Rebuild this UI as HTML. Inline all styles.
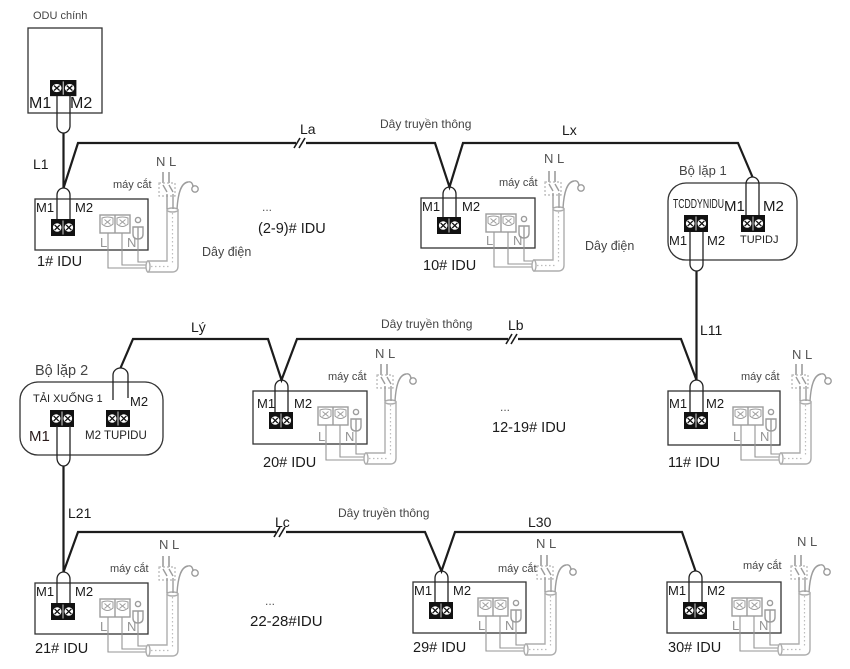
<!DOCTYPE html>
<html><head><meta charset="utf-8">
<style>
html,body{margin:0;padding:0;background:#fff;}
svg{display:block;}
text{font-family:"Liberation Sans","DejaVu Sans",sans-serif;}
.m{font-size:13px;fill:#1a1a1a;}
.g{font-size:13px;fill:#949494;}
.nl{font-size:13px;fill:#555;}
.mc{font-size:11px;fill:#444;}
.lab{font-size:14.5px;fill:#1a1a1a;}
.ll{font-size:14px;fill:#1a1a1a;}
.dt{font-size:12px;fill:#444;}
.lp{fill:none;stroke:#222;stroke-width:1.3;}
.th{fill:none;stroke:#1c1c1c;stroke-width:2.2;stroke-linejoin:miter;}
.bx{fill:none;stroke:#333;stroke-width:1.3;}
</style></head>
<body>
<svg width="850" height="669" viewBox="0 0 850 669" xmlns="http://www.w3.org/2000/svg">
<defs>
<g id="tb">
<rect x="0" y="0" width="24" height="17" fill="#111"/>
<circle cx="6.2" cy="8.5" r="4.3" fill="#fff"/>
<circle cx="17.8" cy="8.5" r="4.3" fill="#fff"/>
<path d="M3.6 5.9l5.2 5.2M8.8 5.9l-5.2 5.2M15.2 5.9l5.2 5.2M20.4 5.9l-5.2 5.2" stroke="#111" stroke-width="1.3"/>
<line x1="12" y1="1.5" x2="12" y2="15.5" stroke="#fff" stroke-width="0.8"/>
</g>
<g id="pw" fill="none" stroke="#9c9c9c" stroke-width="1.4">
<path d="M73 30V69H113M87 30V66H113M103 40V63H113" stroke="#959595" stroke-width="1.1"/>
<rect x="65" y="16" width="30" height="18" fill="#fff"/>
<line x1="80" y1="16" x2="80" y2="34"/>
<path d="M67 19q5.5-2 11 0v6q-5.5 5-11 0zM82 19q5.5-2 11 0v6q-5.5 5-11 0z" stroke-width="1"/>
<path d="M69.5 20.5l6 5M75.5 20.5l-6 5M84.5 20.5l6 5M90.5 20.5l-6 5" stroke-width="0.9"/>
<circle cx="103" cy="21" r="2.6"/>
<path d="M98 28h10v7q0 5-5 5t-5-5z" fill="#fff"/>
<line x1="103" y1="28" x2="103" y2="40"/>
<path d="M113 62H132V11H143V67q0 6-6 6H113z" fill="#fff" stroke="#adadad"/>
<ellipse cx="113" cy="67.5" rx="2" ry="5.5" fill="#fff" stroke="#adadad"/>
<ellipse cx="137.5" cy="11" rx="5.5" ry="2" fill="#fff" stroke="#adadad"/>
<path d="M137.5 14V64M116 67.5H134" stroke-dasharray="1.5 2.5" stroke="#bdbdbd" stroke-width="1.2"/>
<path d="M128 -27V-16M134 -27V-16" stroke="#8f8f8f"/>
<rect x="124" y="-16" width="16" height="13" stroke-dasharray="2 2" stroke="#b5b5b5" stroke-width="1.2"/>
<path d="M128 -14l4 7M134 -14l4 7"/>
<path d="M132 -5V10M138 -5V10"/>
<path d="M142 10C143 -6 146 -16 153 -17C157 -18 158 -14 158 -12"/>
<circle cx="160" cy="-10" r="3.2"/>
</g>
</defs>

<!-- ODU -->
<text x="33" y="19" style="font-size:11px;fill:#444">ODU chính</text>
<rect x="28" y="28" width="74" height="85" class="bx"/>
<use href="#tb" x="50" y="80" transform="translate(50,80) scale(1.1,0.95) translate(-50,-80)"/>
<text x="29" y="108" style="font-size:16px;fill:#1a1a1a">M1</text>
<text x="70" y="108" style="font-size:16px;fill:#1a1a1a">M2</text>
<path d="M57 96V126a6.5 7 0 0 0 13 0V96" class="lp"/>

<!-- thick communication lines -->
<path class="th" d="M63.5 133V188"/>
<path class="th" d="M63.5 188L78 143H435L449.5 187L463 143H738L752.5 177"/>
<path class="th" d="M696.5 271V380"/>
<path class="th" d="M120.5 368L133 339H268L281.5 380L297 339H681L696.5 380"/>
<path class="th" d="M63.5 466V572"/>
<path class="th" d="M63.5 572L78 532H425L441.5 571L455 532H682L695.5 571"/>

<!-- breaks -->
<g stroke="#1c1c1c" stroke-width="1.6">
<rect x="296" y="139" width="10" height="8" fill="#fff" stroke="none"/>
<path d="M294 148L300 138M299 148L305 138"/>
<rect x="508" y="335" width="10" height="8" fill="#fff" stroke="none"/>
<path d="M506 344L512 334M511 344L517 334"/>
<rect x="276" y="528" width="10" height="8" fill="#fff" stroke="none"/>
<path d="M274 537L280 527M279 537L285 527"/>
</g>

<!-- line labels -->
<text x="300" y="134" class="ll">La</text>
<text x="380" y="128" class="dt">Dây truyền thông</text>
<text x="562" y="135" class="ll">Lx</text>
<text x="33" y="169" class="ll">L1</text>
<text x="191" y="332" class="ll">Lý</text>
<text x="381" y="328" class="dt">Dây truyền thông</text>
<text x="508" y="330" class="ll">Lb</text>
<text x="700" y="335" class="ll">L11</text>
<text x="68" y="518" class="ll">L21</text>
<text x="275" y="527" class="ll">Lc</text>
<text x="338" y="517" class="dt">Dây truyền thông</text>
<text x="528" y="527" class="ll">L30</text>

<!-- range labels -->
<text x="262" y="211" style="font-size:12px;fill:#555">...</text>
<text x="258" y="233" class="lab">(2-9)# IDU</text>
<text x="500" y="411" style="font-size:12px;fill:#555">...</text>
<text x="492" y="432" class="lab">12-19# IDU</text>
<text x="265" y="605" style="font-size:12px;fill:#555">...</text>
<text x="250" y="626" style="font-size:15px;fill:#1a1a1a">22-28#IDU</text>

<text x="202" y="256" style="font-size:12.5px;fill:#444">Dây điện</text>
<text x="585" y="250" style="font-size:12.5px;fill:#444">Dây điện</text>

<!-- IDU 1 -->
<g transform="translate(35,199)">
<rect x="0" y="0" width="113" height="51" class="bx"/>
<use href="#tb" x="16" y="20"/>
<path d="M22 20V-4a6.5 7 0 0 1 13 0V20" class="lp"/>
<text x="1" y="13" class="m">M1</text><text x="40" y="13" class="m">M2</text>
<use href="#pw"/>
<text x="65" y="48" class="g">L</text><text x="92" y="48" class="g">N</text>
<text x="121" y="-33" class="nl">N L</text>
<text x="78" y="-11" class="mc">máy cắt</text>
</g>
<text x="37" y="266" class="lab">1# IDU</text>

<!-- IDU 10 -->
<g transform="translate(421,198)">
<rect x="0" y="0" width="114" height="50" class="bx"/>
<use href="#tb" x="16" y="19"/>
<path d="M22 19V-4a6.5 7 0 0 1 13 0V19" class="lp"/>
<text x="1" y="13" class="m">M1</text><text x="41" y="13" class="m">M2</text>
<use href="#pw"/>
<text x="65" y="47" class="g">L</text><text x="92" y="47" class="g">N</text>
<text x="123" y="-35" class="nl">N L</text>
<text x="78" y="-12" class="mc">máy cắt</text>
</g>
<text x="423" y="270" class="lab">10# IDU</text>

<!-- Repeater 1 -->
<text x="679" y="175" style="font-size:13px;fill:#444">Bộ lặp 1</text>
<rect x="668" y="183" width="129" height="77" rx="18" ry="18" class="bx"/>
<text x="673" y="208" style="font-size:13px;fill:#222" textLength="51" lengthAdjust="spacingAndGlyphs">TCDDYNIDU</text>
<text x="724" y="211" style="font-size:15px;fill:#1a1a1a">M1</text>
<text x="763" y="211" style="font-size:15px;fill:#1a1a1a">M2</text>
<use href="#tb" x="684" y="215"/>
<use href="#tb" x="741" y="215"/>
<text x="740" y="243" style="font-size:11px;fill:#222">TUPIDJ</text>
<text x="669" y="245" class="m">M1</text>
<text x="707" y="245" class="m">M2</text>
<path d="M746 215V184a6.5 7 0 0 1 13 0V215" class="lp"/>
<path d="M690 232V264a6.5 7 0 0 0 13 0V232" class="lp"/>

<!-- Repeater 2 -->
<text x="35" y="375" style="font-size:14.5px;fill:#444">Bộ lặp 2</text>
<rect x="20" y="382" width="143" height="73" rx="18" ry="18" class="bx"/>
<text x="33" y="402" style="font-size:11px;fill:#222">TẢI XUỐNG 1</text>
<text x="130" y="406" class="m">M2</text>
<use href="#tb" x="50" y="410"/>
<use href="#tb" x="106" y="410"/>
<text x="85" y="439" style="font-size:11.5px;fill:#222">M2 TUPIDU</text>
<text x="29" y="441" style="font-size:15px;fill:#2a1a1a">M1</text>
<path d="M113 400V375a7.5 7 0 0 1 15 0V398" class="lp"/>
<path d="M57 426V458a6.5 8 0 0 0 13 0V426" class="lp"/>

<!-- IDU 20 -->
<g transform="translate(253,391)">
<rect x="0" y="0" width="114" height="53" class="bx"/>
<use href="#tb" x="16" y="21"/>
<path d="M22 21V-4a6.5 7 0 0 1 13 0V21" class="lp"/>
<text x="4" y="17" class="m">M1</text><text x="41" y="17" class="m">M2</text>
<use href="#pw"/>
<text x="65" y="50" class="g">L</text><text x="92" y="50" class="g">N</text>
<text x="122" y="-33" class="nl">N L</text>
<text x="75" y="-11" class="mc">máy cắt</text>
</g>
<text x="263" y="467" class="lab">20# IDU</text>

<!-- IDU 11 -->
<g transform="translate(668,391)">
<rect x="0" y="0" width="112" height="54" class="bx"/>
<use href="#tb" x="16" y="21"/>
<path d="M22 21V-4a6.5 7 0 0 1 13 0V21" class="lp"/>
<text x="1" y="17" class="m">M1</text><text x="38" y="17" class="m">M2</text>
<use href="#pw"/>
<text x="65" y="50" class="g">L</text><text x="92" y="50" class="g">N</text>
<text x="124" y="-32" class="nl">N L</text>
<text x="73" y="-11" class="mc">máy cắt</text>
</g>
<text x="668" y="467" class="lab">11# IDU</text>

<!-- IDU 21 -->
<g transform="translate(35,583)">
<rect x="0" y="0" width="113" height="51" class="bx"/>
<use href="#tb" x="16" y="20"/>
<path d="M22 20V-4a6.5 7 0 0 1 13 0V20" class="lp"/>
<text x="1" y="13" class="m">M1</text><text x="40" y="13" class="m">M2</text>
<use href="#pw"/>
<text x="65" y="48" class="g">L</text><text x="92" y="48" class="g">N</text>
<text x="124" y="-34" class="nl">N L</text>
<text x="75" y="-11" class="mc">máy cắt</text>
</g>
<text x="35" y="653" class="lab">21# IDU</text>

<!-- IDU 29 -->
<g transform="translate(413,582)">
<rect x="0" y="0" width="113" height="51" class="bx"/>
<use href="#tb" x="16" y="20"/>
<path d="M22 20V-4a6.5 7 0 0 1 13 0V20" class="lp"/>
<text x="1" y="13" class="m">M1</text><text x="40" y="13" class="m">M2</text>
<use href="#pw"/>
<text x="65" y="48" class="g">L</text><text x="92" y="48" class="g">N</text>
<text x="123" y="-34" class="nl">N L</text>
<text x="85" y="-10" class="mc">máy cắt</text>
</g>
<text x="413" y="652" class="lab">29# IDU</text>

<!-- IDU 30 -->
<g transform="translate(667,582)">
<rect x="0" y="0" width="114" height="51" class="bx"/>
<use href="#tb" x="16" y="20"/>
<path d="M22 20V-4a6.5 7 0 0 1 13 0V20" class="lp"/>
<text x="1" y="13" class="m">M1</text><text x="40" y="13" class="m">M2</text>
<use href="#pw"/>
<text x="65" y="48" class="g">L</text><text x="92" y="48" class="g">N</text>
<text x="130" y="-36" class="nl">N L</text>
<text x="76" y="-13" class="mc">máy cắt</text>
</g>
<text x="668" y="652" class="lab">30# IDU</text>
</svg>
</body></html>
